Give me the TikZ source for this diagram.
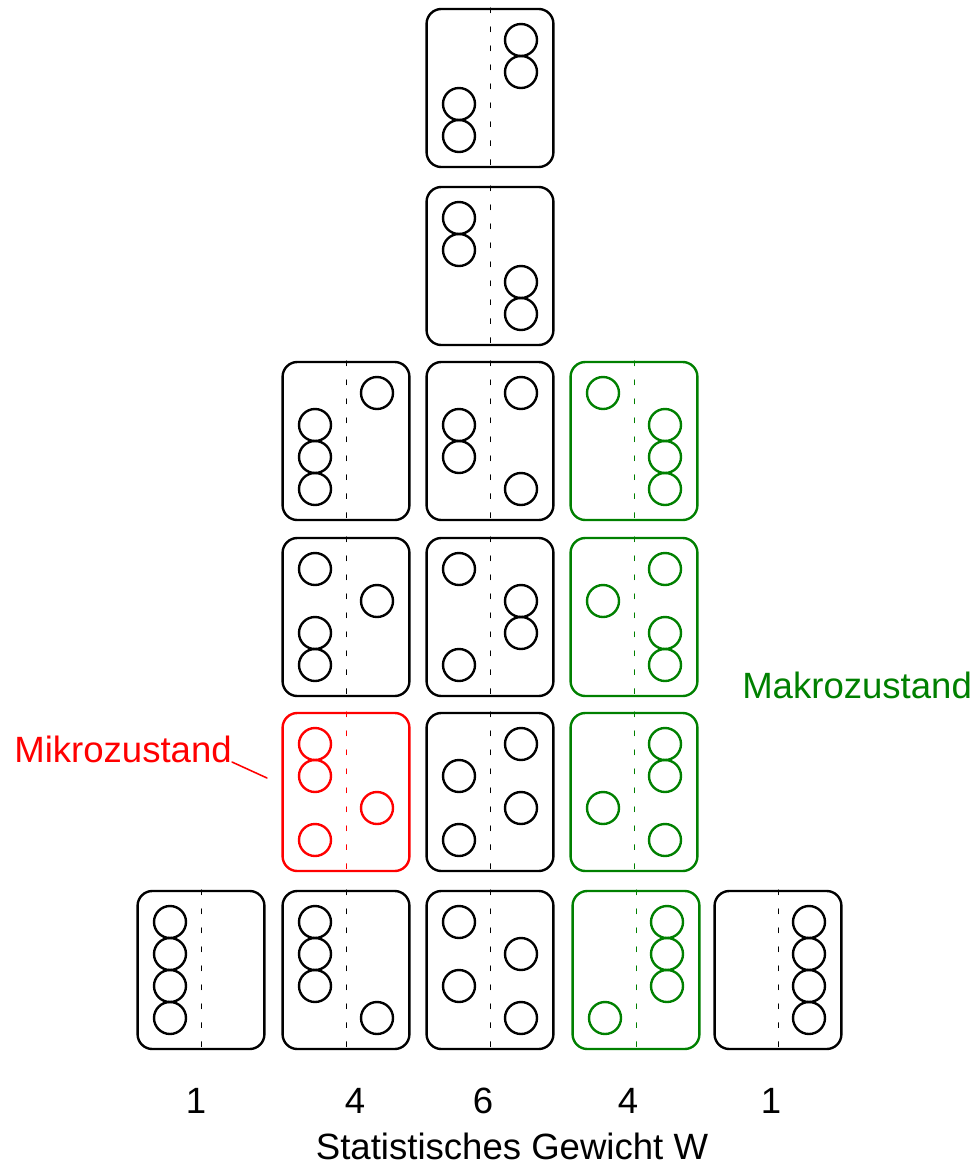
\documentclass[tikz,border=0pt]{standalone}
\usepackage{fontspec}
\setmainfont{Liberation Sans}
\usepackage{tikz}

\definecolor{makrogruen}{RGB}{0,128,0}

\tikzset{
  kasten/.style={draw, rounded corners=0.37cm, line width=1.7pt,
                 minimum width=3.17cm, minimum height=3.95cm, inner sep=0pt},
  trenn/.style={dash pattern=on 3.5pt off 10pt, line width=0.55pt},
  teilchen/.style={line width=1.7pt},
  beschr/.style={font=\fontsize{26}{31}\selectfont, inner sep=0pt}
}

% one box: name, x, y, colour, particles as side/slot
\newcommand{\zustand}[5]{%
  \node[kasten, draw=#4] (#1) at (#2,#3) {};
  \draw[trenn, #4] (#1.north) -- (#1.south);
  \foreach \sd/\sl in {#5}
    \draw[teilchen, #4] ({#2+(\sd)},{#3+32*\sl-80}) circle[radius=16];
}

\begin{document}
\begin{tikzpicture}[x=0.025cm, y=-0.025cm, line cap=round]
  \useasboundingbox (0,0) rectangle (978,1165);
  % bottom row
  \zustand{z00}{201}{970}{black}{-31/1,-31/2,-31/3,-31/4}
  \zustand{z10}{346}{970}{black}{-31/1,-31/2,-31/3,31/4}
  \zustand{z20}{490}{970}{black}{-31/1,31/2,-31/3,31/4}
  \zustand{z30}{636}{970}{makrogruen}{-31/4,31/1,31/2,31/3}
  \zustand{z40}{778}{970}{black}{31/1,31/2,31/3,31/4}
  % second row
  \zustand{z11}{346}{792}{red}{-31/1,-31/2,31/3,-31/4}
  \zustand{z21}{490}{792}{black}{31/1,-31/2,31/3,-31/4}
  \zustand{z31}{634}{792}{makrogruen}{31/1,31/2,-31/3,31/4}
  % third row
  \zustand{z12}{346}{617}{black}{-31/1,31/2,-31/3,-31/4}
  \zustand{z22}{490}{617}{black}{-31/1,31/2,31/3,-31/4}
  \zustand{z32}{634}{617}{makrogruen}{31/1,-31/2,31/3,31/4}
  % fourth row
  \zustand{z13}{346}{441}{black}{31/1,-31/2,-31/3,-31/4}
  \zustand{z23}{490}{441}{black}{31/1,-31/2,-31/3,31/4}
  \zustand{z33}{634}{441}{makrogruen}{-31/1,31/2,31/3,31/4}
  % top two
  \zustand{z24}{490}{266}{black}{-31/1,-31/2,31/3,31/4}
  \zustand{z25}{490}{88}{black}{31/1,31/2,-31/3,-31/4}
  % labels
  \node[beschr, red, anchor=base east] (mikro) at (232,762) {Mikrozustand};
  \coordinate (mikrospitze) at (267,778);
  \draw[red, line width=1.1pt] (mikro.base east) -- (mikrospitze);
  \node[beschr, makrogruen, anchor=base west] (makro) at (742,698) {Makrozustand};
  % weights
  \foreach \x/\w [count=\i] in {196/1, 355/4, 483/6, 628/4, 771/1}
    \node[beschr, anchor=base] (w\i) at (\x,1113) {\w};
  \node[beschr, anchor=base] (gewicht) at (512,1159) {Statistisches Gewicht W};
\end{tikzpicture}
\end{document}
